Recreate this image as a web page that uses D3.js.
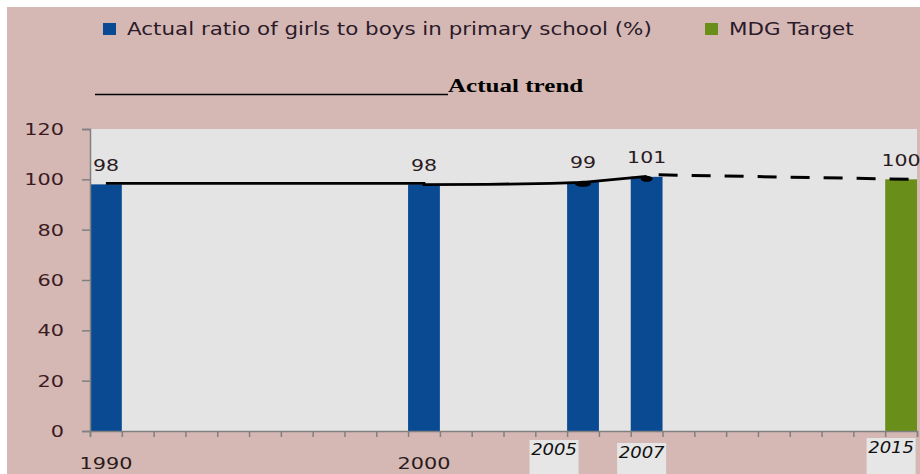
<!DOCTYPE html>
<html>
<head>
<meta charset="utf-8">
<script src="https://cdn.jsdelivr.net/npm/d3@7"></script>
<style>
  html, body { margin: 0; padding: 0; background: #fff; }
  svg { display: block; }
</style>
</head>
<body>
<svg id="chart" width="920" height="474"></svg>
<script>
// Years on the category axis (one slot per year)
const years = d3.range(1990, 2016);
// Actual ratio of girls to boys in primary school (%)
const actualYears = [1990, 2000, 2005, 2007];
const actualValues = [98, 98, 99, 101];
// MDG target
const targetYears = [2015];
const targetValues = [100];
// Trend line as drawn (solid = actual, dashed = projection to target)
const trendYears = [1990, 2000, 2000, 2002, 2004, 2005, 2007];
const trendValues = [98.4, 98.4, 97.9, 98.0, 98.4, 98.8, 101.2];
const projYears = [2007, 2015];
const projValues = [101.8, 100];
const yTicks = [0, 20, 40, 60, 80, 100, 120];
const plainLabels = [1990, 2000];
const boxedLabels = [2005, 2007, 2015];

const svg = d3.select('#chart');
const W = 920, H = 474;
const m = { left: 90, right: 3, top: 129, bottom: 43 };
const SANS = 'DejaVu Sans, Verdana, sans-serif';
const SX = 1.28; // the reference text is stretched horizontally

// text stretched horizontally around its anchor point
function stext(g, x, y, txt, o) {
  return g.append('text')
    .attr('transform', `translate(${x},${y}) scale(${o.sx || SX},1)`)
    .attr('text-anchor', o.anchor || 'start')
    .attr('font-family', o.family || SANS)
    .attr('font-size', o.size || 16)
    .attr('font-style', o.style || 'normal')
    .attr('font-weight', o.weight || 'normal')
    .attr('fill', o.fill || '#2a1a1a')
    .text(txt);
}

// background
svg.append('rect').attr('x', 7).attr('y', 7).attr('width', W - 7).attr('height', H - 7)
  .attr('fill', '#d5b8b4');

const x = d3.scaleBand().domain(years).range([m.left, W - m.right]).padding(0);
const y = d3.scaleLinear().domain([0, 120]).range([H - m.bottom, m.top]);
const cx = yr => x(yr) + x.bandwidth() / 2;

// plot area
svg.append('rect')
  .attr('x', m.left).attr('y', m.top)
  .attr('width', W - m.right - m.left).attr('height', y(0) - m.top)
  .attr('fill', '#e4e4e4');

// bars
const blue = '#0a4a93', green = '#6a8e1a';
const actual = actualYears.map((yr, i) => ({ year: yr, v: actualValues[i], c: blue }));
const target = targetYears.map((yr, i) => ({ year: yr, v: targetValues[i], c: green }));
const bars = actual.concat(target);

svg.append('g').selectAll('rect').data(bars).enter().append('rect')
  .attr('x', d => x(d.year))
  .attr('y', d => y(d.v))
  .attr('width', x.bandwidth())
  .attr('height', d => y(0) - y(d.v))
  .attr('fill', d => d.c);

// value labels
const vl = svg.append('g');
bars.forEach(d => {
  stext(vl, cx(d.year), y(d.v) - 13.5, d.v, { anchor: 'middle', size: 16, fill: '#2a1a22' });
});

// trend lines
const line = d3.line()
  .x(d => cx(d[0]))
  .y(d => y(d[1]));
svg.append('path')
  .datum(trendYears.map((yr, i) => [yr, trendValues[i]]))
  .attr('d', line)
  .attr('fill', 'none').attr('stroke', '#000').attr('stroke-width', 2.8);
svg.append('path')
  .datum(projYears.map((yr, i) => [yr, projValues[i]]))
  .attr('d', line)
  .attr('transform', 'translate(12,0)')
  .attr('fill', 'none').attr('stroke', '#000').attr('stroke-width', 3)
  .attr('stroke-dasharray', '19,14');
// small marker blobs on the 2005 and 2007 bar tops
svg.append('g').selectAll('ellipse').data(actual.filter(d => d.year >= 2005)).enter()
  .append('ellipse')
  .attr('cx', d => cx(d.year))
  .attr('cy', d => y(d.v) + 2)
  .attr('rx', d => d.year === 2005 ? 8 : 6)
  .attr('ry', 3)
  .attr('fill', '#000');

// y axis
const yAxis = svg.append('g')
  .attr('transform', `translate(${m.left},0)`)
  .call(d3.axisLeft(y).tickValues(yTicks).tickSize(8).tickFormat(''));
yAxis.select('.domain').attr('stroke', '#808080').attr('stroke-width', 1.5);
yAxis.selectAll('.tick line').attr('stroke', '#808080').attr('stroke-width', 1.5);
const yl = svg.append('g');
yTicks.forEach(t => {
  stext(yl, 64, y(t) + 6, t, { anchor: 'end', size: 16, sx: 1.3, fill: '#3a1a22' });
});

// x axis: ticks at slot boundaries
const xb = d3.scaleLinear().domain([0, years.length]).range([m.left, W - m.right]);
const xAxis = svg.append('g')
  .attr('transform', `translate(0,${y(0)})`)
  .call(d3.axisBottom(xb).tickValues(d3.range(years.length + 1)).tickSize(6).tickFormat(''));
xAxis.select('.domain').attr('stroke', '#808080').attr('stroke-width', 1.5);
xAxis.selectAll('.tick line').attr('stroke', '#808080').attr('stroke-width', 1.5);

// plain year labels
const xl = svg.append('g');
plainLabels.forEach(yr => {
  stext(xl, cx(yr), 469, yr, { anchor: 'middle', size: 16, sx: 1.3, fill: '#2a1a1a' });
});

// boxed italic year labels
const boxShift = { 2005: -29, 2007: -5, 2015: -10 };
const boxTop = { 2005: 440, 2007: 443, 2015: 438 };
boxedLabels.forEach(yr => {
  const bx = cx(yr) + boxShift[yr];
  xl.append('rect').attr('x', bx - 24.5).attr('y', boxTop[yr]).attr('width', 49).attr('height', 40)
    .attr('fill', '#e6e6e6');
  stext(xl, bx, boxTop[yr] + 15, yr, { anchor: 'middle', size: 15, sx: 1.2, style: 'italic', fill: '#111' });
});

// legend
const legend = [
  { label: 'Actual ratio of girls to boys in primary school (%)', c: blue, x: 103 },
  { label: 'MDG Target', c: green, x: 705 }
];
const lg = svg.append('g');
legend.forEach(d => {
  lg.append('rect').attr('x', d.x).attr('y', 23).attr('width', 13).attr('height', 12).attr('fill', d.c);
  stext(lg, d.x + 24, 35, d.label, { size: 17, sx: 1.26, fill: '#2a1a2a' });
});

// "Actual trend" annotation
svg.append('line').attr('x1', 95).attr('x2', 448).attr('y1', 94.5).attr('y2', 94.5)
  .attr('stroke', '#000').attr('stroke-width', 1.5);
stext(svg, 448, 92, 'Actual trend', {
  family: 'Liberation Serif, Times New Roman, serif', weight: 'bold', size: 19, sx: 1.32, fill: '#000'
});
</script>
</body>
</html>
